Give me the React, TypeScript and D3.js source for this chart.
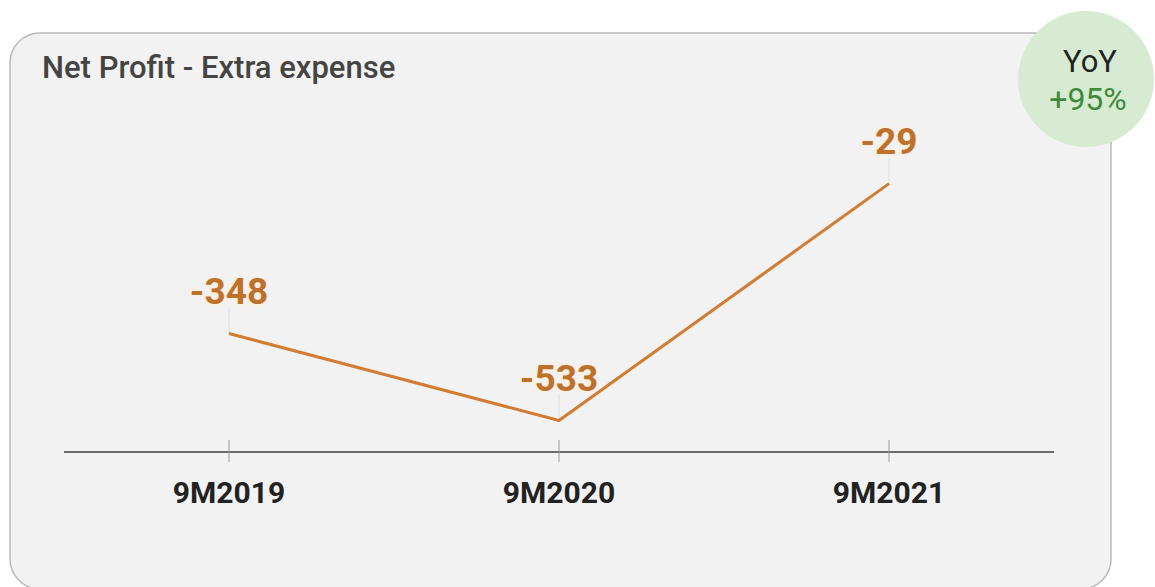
import React from "react";
import * as d3 from "d3";

const categories = ["9M2019", "9M2020", "9M2021"];
const values = [-348, -533, -29];
const valueLabels = ["-348", "-533", "-29"];
const title = "Net Profit - Extra expense";
const badgeTop = "YoY";
const badgeBottom = "+95%";

const W = 1155;
const H = 587;

export default function App() {
  const x = d3.scaleBand<string>().domain(categories).range([64, 1054]).padding(0);
  const y = d3.scaleLinear().domain([-600, 0]).range([452, 170]);
  const cx = (c: string) => (x(c) as number) + x.bandwidth() / 2;
  const line = d3
    .line<number>()
    .x((_, i) => cx(categories[i]))
    .y((d) => y(d));

  return (
    <svg
      width={W}
      height={H}
      style={{ position: "absolute", left: 0, top: 0, fontFamily: "Roboto, sans-serif" }}
    >
      <rect x={0} y={0} width={W} height={H} fill="#ffffff" />
      <rect x={10} y={33} width={1101} height={556} rx={30} ry={30} fill="#f2f2f2" stroke="#b9b9b9" strokeWidth={1.5} />
      <text x={42} y={78} fontSize={31} fontWeight={500} fill="#444444">
        {title}
      </text>

      {/* axis */}
      <line x1={64} x2={1054} y1={452} y2={452} stroke="#6a6a6a" strokeWidth={2} />
      {categories.map((c) => (
        <g key={c}>
          <line x1={cx(c)} x2={cx(c)} y1={440} y2={462} stroke="#9a9a9a" strokeWidth={1} />
          <text x={cx(c)} y={503} textAnchor="middle" fontSize={30} fontWeight={700} fill="#222222">
            {c}
          </text>
        </g>
      ))}

      {/* leader lines */}
      {values.map((v, i) => (
        <line
          key={"l" + i}
          x1={cx(categories[i])}
          x2={cx(categories[i])}
          y1={y(v) - 26}
          y2={y(v)}
          stroke="#d6dde6"
          strokeWidth={1}
        />
      ))}

      <path d={line(values) || ""} fill="none" stroke="#d27b32" strokeWidth={3} strokeLinejoin="round" />

      {values.map((v, i) => (
        <text
          key={"t" + i}
          x={cx(categories[i])}
          y={y(v) - 30}
          textAnchor="middle"
          fontSize={37}
          fontWeight={700}
          fill="#bd722b"
          stroke="#fbefe3"
          strokeWidth={3}
          paintOrder="stroke"
        >
          {valueLabels[i]}
        </text>
      ))}

      {/* YoY badge */}
      <circle cx={1086} cy={79} r={68} fill="#d6ebd2" />
      <text x={1090} y={72} textAnchor="middle" fontSize={31} fill="#222222">
        {badgeTop}
      </text>
      <text x={1088} y={110} textAnchor="middle" fontSize={32} fill="#3f8a3a">
        {badgeBottom}
      </text>
    </svg>
  );
}
